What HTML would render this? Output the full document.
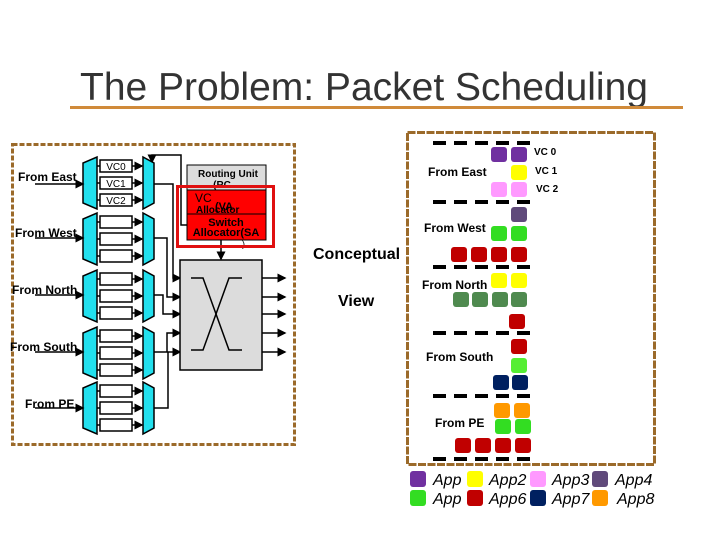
<!DOCTYPE html>
<html><head><style>
body{margin:0;background:#fff}
svg{display:block}
text{font-family:"Liberation Sans",sans-serif}
</style></head><body>
<svg width="720" height="540" xmlns="http://www.w3.org/2000/svg" xmlns:xlink="http://www.w3.org/1999/xlink">
<defs>
<marker id="a" markerWidth="6" markerHeight="6" refX="5" refY="3" orient="auto"><path d="M0,0 L6,3 L0,6z" fill="#000"/></marker>
<g id="unit" stroke="#000" stroke-width="1.5">
<polygon points="97,-9 97,43 83,37 83,-3" fill="#22e0ee"/>
<polygon points="143,-9 143,43 154,37 154,-3" fill="#22e0ee"/>
<line x1="97" y1="0" x2="100" y2="0"/><rect x="100" y="-6" width="32" height="12" fill="#fff"/><line x1="132" y1="0" x2="142" y2="0" marker-end="url(#a)"/>
<line x1="97" y1="17" x2="100" y2="17"/><rect x="100" y="11" width="32" height="12" fill="#fff"/><line x1="132" y1="17" x2="142" y2="17" marker-end="url(#a)"/>
<line x1="97" y1="34" x2="100" y2="34"/><rect x="100" y="28" width="32" height="12" fill="#fff"/><line x1="132" y1="34" x2="142" y2="34" marker-end="url(#a)"/>
</g>
<g id="dash" fill="#000">
<rect x="433" y="-2" width="13" height="4"/><rect x="454" y="-2" width="13" height="4"/><rect x="475" y="-2" width="13" height="4"/><rect x="496" y="-2" width="13" height="4"/><rect x="517" y="-2" width="13" height="4"/>
</g>
</defs>
<text x="80" y="100" font-size="39" fill="#333">The Problem: Packet Scheduling</text>
<rect x="70" y="106" width="613" height="3" fill="#D08A3A"/>

<rect x="12.5" y="144.5" width="282" height="300" fill="none" stroke="#9B6A2A" stroke-width="3" stroke-dasharray="5,2"/>
<g stroke="#000" stroke-width="1.5" fill="none">
<polyline points="187,225 181,225 181,155 152,155 152,162" marker-end="url(#a)"/>
<polyline points="154,184 173,184 173,278 180,278" marker-end="url(#a)"/>
<polyline points="154,238 167,238 167,297 180,297" marker-end="url(#a)"/>
<polyline points="154,295 163,295 163,314 180,314" marker-end="url(#a)"/>
<polyline points="154,352 167,352 167,333 180,333" marker-end="url(#a)"/>
<polyline points="154,408 168,408 168,352 180,352" marker-end="url(#a)"/>
<line x1="262" y1="278" x2="285" y2="278" marker-end="url(#a)"/>
<line x1="262" y1="297" x2="285" y2="297" marker-end="url(#a)"/>
<line x1="262" y1="314" x2="285" y2="314" marker-end="url(#a)"/>
<line x1="262" y1="333" x2="285" y2="333" marker-end="url(#a)"/>
<line x1="262" y1="352" x2="285" y2="352" marker-end="url(#a)"/>
<line x1="221" y1="240" x2="221" y2="259" marker-end="url(#a)"/>
</g>
<rect x="180" y="260" width="82" height="110" fill="#dcdcdc" stroke="#000" stroke-width="1.5"/>
<polyline points="191,278 203,278 229,350 242,350" fill="none" stroke="#000" stroke-width="1.5"/>
<polyline points="191,350 203,350 229,278 242,278" fill="none" stroke="#000" stroke-width="1.5"/>
<rect x="187" y="165" width="79" height="26" fill="#dcdcdc" stroke="#000"/>
<text x="228" y="177" font-size="10" font-weight="bold" text-anchor="middle">Routing Unit</text>
<text x="222" y="188" font-size="10" font-weight="bold" text-anchor="middle">(RC</text>
<rect x="187" y="190" width="79" height="24" fill="#f00" stroke="#000"/>
<rect x="187" y="214" width="79" height="26" fill="#f00" stroke="#000"/>
<text x="195" y="202" font-size="12">VC</text>
<text x="196" y="213" font-size="10" font-weight="bold">Allocator</text>
<text x="215" y="210" font-size="11" font-weight="bold">(VA</text>
<text x="226" y="226" font-size="11" font-weight="bold" text-anchor="middle">Switch</text>
<text x="226" y="236" font-size="11" font-weight="bold" text-anchor="middle">Allocator(SA</text>
<text x="242" y="247" font-size="9">)</text>
<rect x="177.5" y="186.5" width="96" height="60" fill="none" stroke="#e01010" stroke-width="3"/>

<use xlink:href="#unit" href="#unit" transform="translate(0,166)"/>
<use xlink:href="#unit" href="#unit" transform="translate(0,222)"/>
<use xlink:href="#unit" href="#unit" transform="translate(0,279)"/>
<use xlink:href="#unit" href="#unit" transform="translate(0,336)"/>
<use xlink:href="#unit" href="#unit" transform="translate(0,391)"/>

<g stroke="#000" stroke-width="1.5">
<line x1="35" y1="184" x2="83" y2="184" marker-end="url(#a)"/>
<line x1="35" y1="238" x2="83" y2="238" marker-end="url(#a)"/>
<line x1="35" y1="295" x2="83" y2="295" marker-end="url(#a)"/>
<line x1="35" y1="352" x2="83" y2="352" marker-end="url(#a)"/>
<line x1="35" y1="408" x2="83" y2="408" marker-end="url(#a)"/>
</g>
<g font-size="12" font-weight="bold">
<text x="18" y="181">From East</text>
<text x="15" y="237">From West</text>
<text x="12" y="294">From North</text>
<text x="10" y="351">From South</text>
<text x="25" y="408">From PE</text>
</g>
<g font-size="10" text-anchor="middle">
<text x="116" y="170">VC0</text><text x="116" y="187">VC1</text><text x="116" y="204">VC2</text>
</g>

<text x="313" y="259" font-size="16" font-weight="bold">Conceptual</text>
<text x="338" y="306" font-size="16" font-weight="bold">View</text>

<rect x="407.5" y="132.5" width="247" height="332" fill="none" stroke="#9B6A2A" stroke-width="3" stroke-dasharray="8,1.5"/>
<use xlink:href="#dash" href="#dash" transform="translate(0,143)"/>
<use xlink:href="#dash" href="#dash" transform="translate(0,202)"/>
<use xlink:href="#dash" href="#dash" transform="translate(0,267)"/>
<use xlink:href="#dash" href="#dash" transform="translate(0,333)"/>
<use xlink:href="#dash" href="#dash" transform="translate(0,396)"/>
<use xlink:href="#dash" href="#dash" transform="translate(0,459)"/>

<g>
<rect x="491" y="147" width="16" height="15" rx="3" fill="#7030A0"/><rect x="511" y="147" width="16" height="15" rx="3" fill="#7030A0"/>
<rect x="511" y="165" width="16" height="15" rx="3" fill="#FFFF00"/>
<rect x="491" y="182" width="16" height="15" rx="3" fill="#FF99FF"/><rect x="511" y="182" width="16" height="15" rx="3" fill="#FF99FF"/>
<rect x="511" y="207" width="16" height="15" rx="3" fill="#604A7B"/>
<rect x="491" y="226" width="16" height="15" rx="3" fill="#33DD22"/><rect x="511" y="226" width="16" height="15" rx="3" fill="#33DD22"/>
<rect x="451" y="247" width="16" height="15" rx="3" fill="#C00000"/><rect x="471" y="247" width="16" height="15" rx="3" fill="#C00000"/><rect x="491" y="247" width="16" height="15" rx="3" fill="#C00000"/><rect x="511" y="247" width="16" height="15" rx="3" fill="#C00000"/>
<rect x="491" y="273" width="16" height="15" rx="3" fill="#FFFF00"/><rect x="511" y="273" width="16" height="15" rx="3" fill="#FFFF00"/>
<rect x="453" y="292" width="16" height="15" rx="3" fill="#4F8A4F"/><rect x="472" y="292" width="16" height="15" rx="3" fill="#4F8A4F"/><rect x="492" y="292" width="16" height="15" rx="3" fill="#4F8A4F"/><rect x="511" y="292" width="16" height="15" rx="3" fill="#4F8A4F"/>
<rect x="509" y="314" width="16" height="15" rx="3" fill="#C00000"/>
<rect x="511" y="339" width="16" height="15" rx="3" fill="#C00000"/>
<rect x="511" y="358" width="16" height="15" rx="3" fill="#55EE33"/>
<rect x="493" y="375" width="16" height="15" rx="3" fill="#002060"/><rect x="512" y="375" width="16" height="15" rx="3" fill="#002060"/>
<rect x="494" y="403" width="16" height="15" rx="3" fill="#FF9900"/><rect x="514" y="403" width="16" height="15" rx="3" fill="#FF9900"/>
<rect x="495" y="419" width="16" height="15" rx="3" fill="#33DD22"/><rect x="515" y="419" width="16" height="15" rx="3" fill="#33DD22"/>
<rect x="455" y="438" width="16" height="15" rx="3" fill="#C00000"/><rect x="475" y="438" width="16" height="15" rx="3" fill="#C00000"/><rect x="495" y="438" width="16" height="15" rx="3" fill="#C00000"/><rect x="515" y="438" width="16" height="15" rx="3" fill="#C00000"/>
</g>
<g font-size="12" font-weight="bold">
<text x="428" y="176">From East</text>
<text x="424" y="232">From West</text>
<text x="422" y="289">From North</text>
<text x="426" y="361">From South</text>
<text x="435" y="427">From PE</text>
</g>
<g font-size="10" font-weight="bold">
<text x="534" y="155">VC 0</text><text x="535" y="174">VC 1</text><text x="536" y="192">VC 2</text>
</g>
<g font-size="16" font-style="italic">
<text x="433" y="485">App</text><text x="489" y="485">App2</text><text x="552" y="485">App3</text><text x="615" y="485">App4</text>
<text x="433" y="504">App</text><text x="489" y="504">App6</text><text x="552" y="504">App7</text><text x="617" y="504">App8</text>
</g>
<g>
<rect x="410" y="471" width="16" height="16" rx="3" fill="#7030A0"/>
<rect x="467" y="471" width="16" height="16" rx="3" fill="#FFFF00"/>
<rect x="530" y="471" width="16" height="16" rx="3" fill="#FF99FF"/>
<rect x="592" y="471" width="16" height="16" rx="3" fill="#604A7B"/>
<rect x="410" y="490" width="16" height="16" rx="3" fill="#33DD22"/>
<rect x="467" y="490" width="16" height="16" rx="3" fill="#C00000"/>
<rect x="530" y="490" width="16" height="16" rx="3" fill="#002060"/>
<rect x="592" y="490" width="16" height="16" rx="3" fill="#FF9900"/>
</g>
</svg>
</body></html>
